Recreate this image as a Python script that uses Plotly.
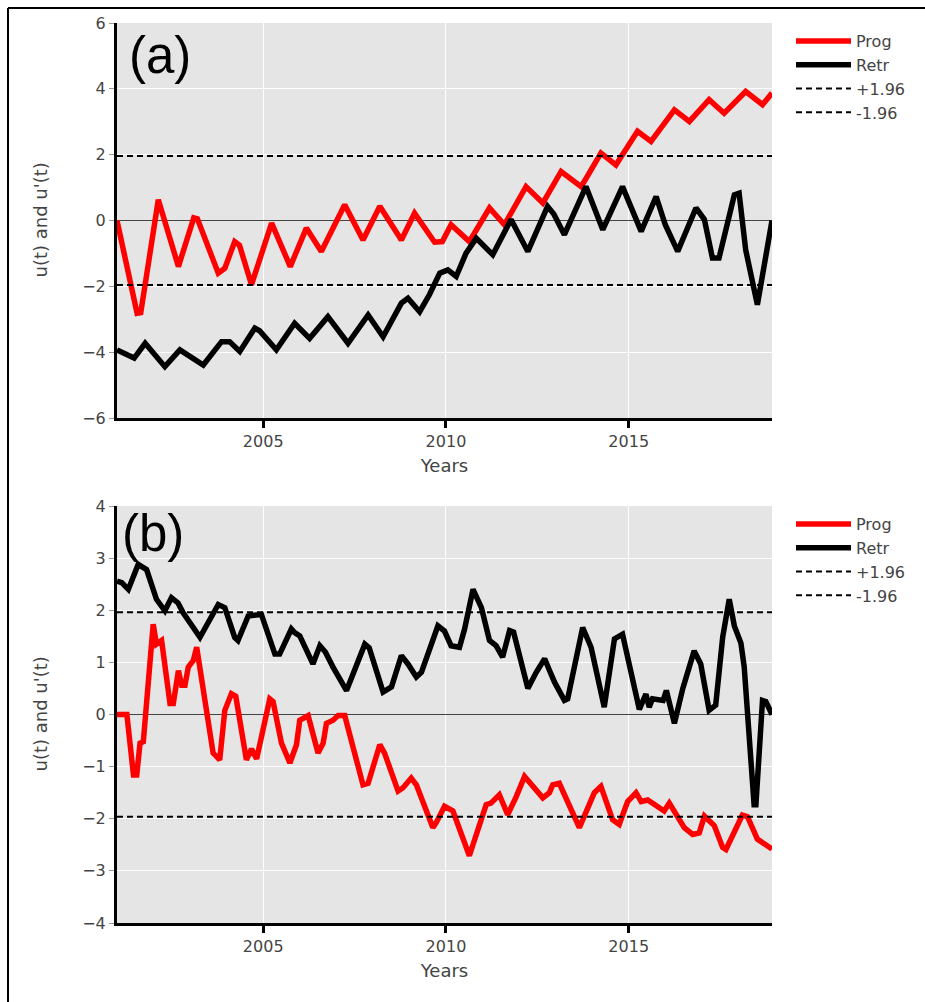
import plotly.graph_objects as go

# ---------------- data ----------------
# Panel (a)
a_prog_years = [2001.0, 2001.55, 2001.65, 2002.13, 2002.68, 2003.1, 2003.2, 2003.77, 2003.95,
                2004.22, 2004.35, 2004.68, 2005.23, 2005.74, 2006.18, 2006.59, 2007.23, 2007.73,
                2008.19, 2008.78, 2009.14, 2009.69, 2009.9, 2010.14, 2010.64, 2011.19, 2011.6,
                2012.19, 2012.65, 2013.15, 2013.70, 2014.24, 2014.65, 2015.24, 2015.61, 2016.25,
                2016.66, 2017.20, 2017.61, 2018.20, 2018.66, 2018.92]
a_prog_vals = [0.0, -2.82, -2.8, 0.63, -1.40, 0.08, 0.05, -1.6, -1.45,
               -0.64, -0.75, -1.95, -0.08, -1.40, -0.23, -0.94, 0.48, -0.59,
               0.43, -0.59, 0.22, -0.66, -0.64, -0.13, -0.64, 0.38, -0.13,
               1.03, 0.53, 1.49, 1.03, 2.05, 1.69, 2.71, 2.40, 3.36,
               3.01, 3.67, 3.26, 3.92, 3.52, 3.87]

a_retr_years = [2001.0, 2001.47, 2001.77, 2002.31, 2002.72, 2003.36, 2003.86, 2004.08, 2004.36,
                2004.77, 2004.9, 2005.36, 2005.86, 2006.27, 2006.77, 2007.32, 2007.87, 2008.28,
                2008.78, 2008.96, 2009.28, 2009.55, 2009.83, 2010.05, 2010.28, 2010.55, 2010.83,
                2011.28, 2011.78, 2012.24, 2012.78, 2012.95, 2013.24, 2013.83, 2014.29, 2014.83,
                2015.34, 2015.75, 2016.0, 2016.34, 2016.84, 2017.07, 2017.29, 2017.47, 2017.89,
                2018.02, 2018.20, 2018.52, 2018.92]
a_retr_vals = [-3.93, -4.18, -3.73, -4.44, -3.93, -4.39, -3.68, -3.68, -3.98,
               -3.27, -3.35, -3.93, -3.12, -3.58, -2.92, -3.73, -2.87, -3.53,
               -2.51, -2.36, -2.77, -2.25, -1.60, -1.50, -1.70, -0.99, -0.54,
               -1.04, 0.03, -0.94, 0.43, 0.2, -0.43, 1.03, -0.28, 1.03,
               -0.33, 0.73, -0.13, -0.94, 0.38, 0.03, -1.14, -1.14, 0.78,
               0.83, -0.89, -2.56, 0.0]

# Panel (b)
b_prog_years = [2001.0, 2001.27, 2001.45, 2001.54, 2001.63, 2001.72, 2001.99, 2002.08, 2002.22,
                2002.45, 2002.54, 2002.68, 2002.77, 2002.86, 2002.95, 2003.09, 2003.18, 2003.63,
                2003.81, 2003.95, 2004.13, 2004.25, 2004.54, 2004.68, 2004.82, 2005.18, 2005.27,
                2005.50, 2005.73, 2005.91, 2006.0, 2006.23, 2006.36, 2006.50, 2006.64, 2006.73,
                2006.91, 2007.05, 2007.23, 2007.73, 2007.87, 2008.19, 2008.32, 2008.46, 2008.69,
                2008.82, 2009.05, 2009.19, 2009.33, 2009.64, 2009.73, 2009.96, 2010.19, 2010.32,
                2010.64, 2011.10, 2011.23, 2011.46, 2011.69, 2011.92, 2012.15, 2012.65, 2012.83,
                2012.92, 2013.10, 2013.65, 2014.06, 2014.24, 2014.56, 2014.74, 2014.97, 2015.20,
                2015.34, 2015.52, 2015.84, 2015.97, 2016.11, 2016.34, 2016.52, 2016.75, 2016.93,
                2017.07, 2017.34, 2017.57, 2017.66, 2018.11, 2018.25, 2018.52, 2018.92]
b_prog_vals = [0.0, 0.0, -1.16, -1.16, -0.55, -0.52, 1.73, 1.35, 1.42,
               0.21, 0.21, 0.84, 0.56, 0.56, 0.91, 1.04, 1.29, -0.74,
               -0.87, 0.08, 0.40, 0.35, -0.87, -0.66, -0.85, 0.30, 0.25,
               -0.55, -0.93, -0.58, -0.11, -0.02, -0.37, -0.74, -0.55, -0.17,
               -0.11, -0.02, -0.02, -1.35, -1.32, -0.58, -0.74, -1.0, -1.47,
               -1.41, -1.22, -1.35, -1.60, -2.17, -2.08, -1.76, -1.85, -2.10,
               -2.71, -1.73, -1.70, -1.54, -1.92, -1.58, -1.19, -1.60, -1.50,
               -1.35, -1.32, -2.17, -1.50, -1.38, -2.02, -2.11, -1.67, -1.50,
               -1.67, -1.64, -1.80, -1.85, -1.70, -1.98, -2.17, -2.30, -2.27,
               -1.95, -2.13, -2.55, -2.59, -1.93, -1.96, -2.39, -2.58]

b_retr_years = [2001.0, 2001.13, 2001.31, 2001.58, 2001.81, 2002.08, 2002.31, 2002.49, 2002.67,
                2002.81, 2003.27, 2003.77, 2003.95, 2004.22, 2004.31, 2004.59, 2004.95, 2005.32,
                2005.45, 2005.77, 2005.86, 2006.0, 2006.36, 2006.55, 2006.7, 2006.91, 2007.28,
                2007.78, 2007.9, 2008.28, 2008.51, 2008.78, 2008.96, 2009.19, 2009.33, 2009.78,
                2009.96, 2010.14, 2010.37, 2010.51, 2010.74, 2010.97, 2011.19, 2011.37, 2011.55,
                2011.74, 2011.85, 2012.24, 2012.47, 2012.70, 2012.83, 2012.97, 2013.24, 2013.33,
                2013.74, 2013.97, 2014.33, 2014.61, 2014.83, 2015.29, 2015.47, 2015.56, 2015.65,
                2015.94, 2016.03, 2016.25, 2016.48, 2016.62, 2016.79, 2016.97, 2017.20, 2017.38,
                2017.57, 2017.75, 2017.89, 2018.07, 2018.16, 2018.43, 2018.48, 2018.66, 2018.75,
                2018.92]
b_retr_vals = [2.56, 2.53, 2.40, 2.88, 2.78, 2.21, 1.99, 2.24, 2.14,
               1.95, 1.48, 2.11, 2.05, 1.48, 1.42, 1.89, 1.92, 1.16,
               1.16, 1.64, 1.57, 1.51, 0.97, 1.32, 1.2, 0.91, 0.46,
               1.35, 1.28, 0.43, 0.53, 1.13, 0.97, 0.72, 0.81, 1.70,
               1.60, 1.32, 1.29, 1.64, 2.40, 2.05, 1.42, 1.32, 1.10,
               1.61, 1.58, 0.50, 0.81, 1.07, 0.85, 0.62, 0.27, 0.30,
               1.67, 1.29, 0.14, 1.45, 1.54, 0.10, 0.39, 0.14, 0.30,
               0.27, 0.46, -0.17, 0.50, 0.85, 1.22, 0.97, 0.08, 0.18,
               1.48, 2.21, 1.70, 1.37, 0.91, -1.73, -1.73, 0.27, 0.25,
               0.0]

crit_up = 1.96
crit_down = -1.96
series_names = ["Prog", "Retr", "+1.96", "-1.96"]
y_ticks_a = [-6, -4, -2, 0, 2, 4, 6]
y_ticks_b = [-4, -3, -2, -1, 0, 1, 2, 3, 4]
x_ticks = [2005, 2010, 2015]
panel_labels = ["(a)", "(b)"]

# ---------------- geometry ----------------
W, H = 925, 1002
PL, PR = 117, 772
A_TOP, A_BOT = 23, 418
B_TOP, B_BOT = 506, 923
ML, MR, MT, MB = PL, W - PR, A_TOP, H - B_BOT
PH = B_BOT - A_TOP
PW = PR - PL


def px2x(px):
    return (px - PL) / PW


def py2y(py):
    return (B_BOT - py) / PH


FONT = "DejaVu Sans"
fig = go.Figure()

x_start = a_prog_years[0]
x_end = a_prog_years[-1]


def add_panel(prog_x, prog_y, retr_x, retr_y, xa, ya, leg):
    fig.add_trace(go.Scatter(x=prog_x, y=prog_y, mode="lines", name=series_names[0],
                             line=dict(color="#ff0000", width=5.5), xaxis=xa, yaxis=ya, legend=leg))
    fig.add_trace(go.Scatter(x=retr_x, y=retr_y, mode="lines", name=series_names[1],
                             line=dict(color="#000000", width=5.5), xaxis=xa, yaxis=ya, legend=leg))
    fig.add_trace(go.Scatter(x=[x_start, x_end], y=[crit_up, crit_up], mode="lines", name=series_names[2],
                             line=dict(color="#000000", width=2, dash="6px,4px"), xaxis=xa, yaxis=ya, legend=leg))
    fig.add_trace(go.Scatter(x=[x_start, x_end], y=[crit_down, crit_down], mode="lines", name=series_names[3],
                             line=dict(color="#000000", width=2, dash="6px,4px"), xaxis=xa, yaxis=ya, legend=leg))


add_panel(a_prog_years, a_prog_vals, a_retr_years, a_retr_vals, "x", "y", "legend")
add_panel(b_prog_years, b_prog_vals, b_retr_years, b_retr_vals, "x2", "y2", "legend2")

xcommon = dict(range=[x_start, x_end], tickvals=x_ticks, showgrid=True, gridcolor="white", gridwidth=1,
               showline=True, linecolor="black", linewidth=3, ticks="outside", ticklen=7, tickwidth=3,
               tickcolor="black", zeroline=False,
               tickfont=dict(family=FONT, size=16, color="#444"),
               title=dict(text="Years", font=dict(family=FONT, size=18, color="#444"), standoff=10))
ycommon = dict(showgrid=True, gridcolor="white", gridwidth=1, showline=True, linecolor="black",
               linewidth=3, ticks="outside", ticklen=5, tickwidth=1, tickcolor="#999",
               zeroline=True, zerolinecolor="#444", zerolinewidth=1,
               tickfont=dict(family=FONT, size=16, color="#444"))

legcommon = dict(font=dict(family=FONT, size=16, color="#444"), bgcolor="rgba(0,0,0,0)",
                 xanchor="left", yanchor="top", itemwidth=55, tracegroupgap=0)

fig.update_layout(
    width=W, height=H,
    margin=dict(l=ML, r=MR, t=MT, b=MB, autoexpand=False),
    paper_bgcolor="white", plot_bgcolor="#e5e5e5",
    showlegend=True,
    xaxis=dict(**xcommon, anchor="y", domain=[0, 1]),
    xaxis2=dict(**xcommon, anchor="y2", domain=[0, 1]),
    yaxis=dict(**ycommon, range=[-6, 6], tickvals=y_ticks_a, anchor="x",
               domain=[py2y(A_BOT), py2y(A_TOP)]),
    yaxis2=dict(**ycommon, range=[-4, 4], tickvals=y_ticks_b, anchor="x2",
                domain=[py2y(B_BOT), py2y(B_TOP)]),
    legend=dict(**legcommon, x=px2x(791), y=py2y(24)),
    legend2=dict(**legcommon, x=px2x(791), y=py2y(507)),
)

annots = []
annots.append(dict(text=panel_labels[0], x=px2x(127), y=py2y(56), xref="paper", yref="paper",
                   xanchor="left", yanchor="middle", showarrow=False,
                   font=dict(family="Liberation Sans", size=51, color="black")))
annots.append(dict(text=panel_labels[1], x=px2x(120), y=py2y(533), xref="paper", yref="paper",
                   xanchor="left", yanchor="middle", showarrow=False,
                   font=dict(family="Liberation Sans", size=51, color="black")))
for cy in [(A_TOP + A_BOT) / 2, (B_TOP + B_BOT) / 2]:
    annots.append(dict(text="u(t) and u'(t)", x=px2x(40), y=py2y(cy), xref="paper", yref="paper",
                       xanchor="center", yanchor="middle", textangle=-90, showarrow=False,
                       font=dict(family=FONT, size=18, color="#444")))
fig.update_layout(annotations=annots)

# outer frame (left and top edges)
fig.add_shape(type="line", xref="paper", yref="paper", x0=px2x(8), x1=px2x(8), y0=py2y(8), y1=py2y(H + 5),
              line=dict(color="black", width=2))
fig.add_shape(type="line", xref="paper", yref="paper", x0=px2x(8), x1=px2x(W + 5), y0=py2y(8), y1=py2y(8),
              line=dict(color="black", width=2))

fig.write_html("out.html")
